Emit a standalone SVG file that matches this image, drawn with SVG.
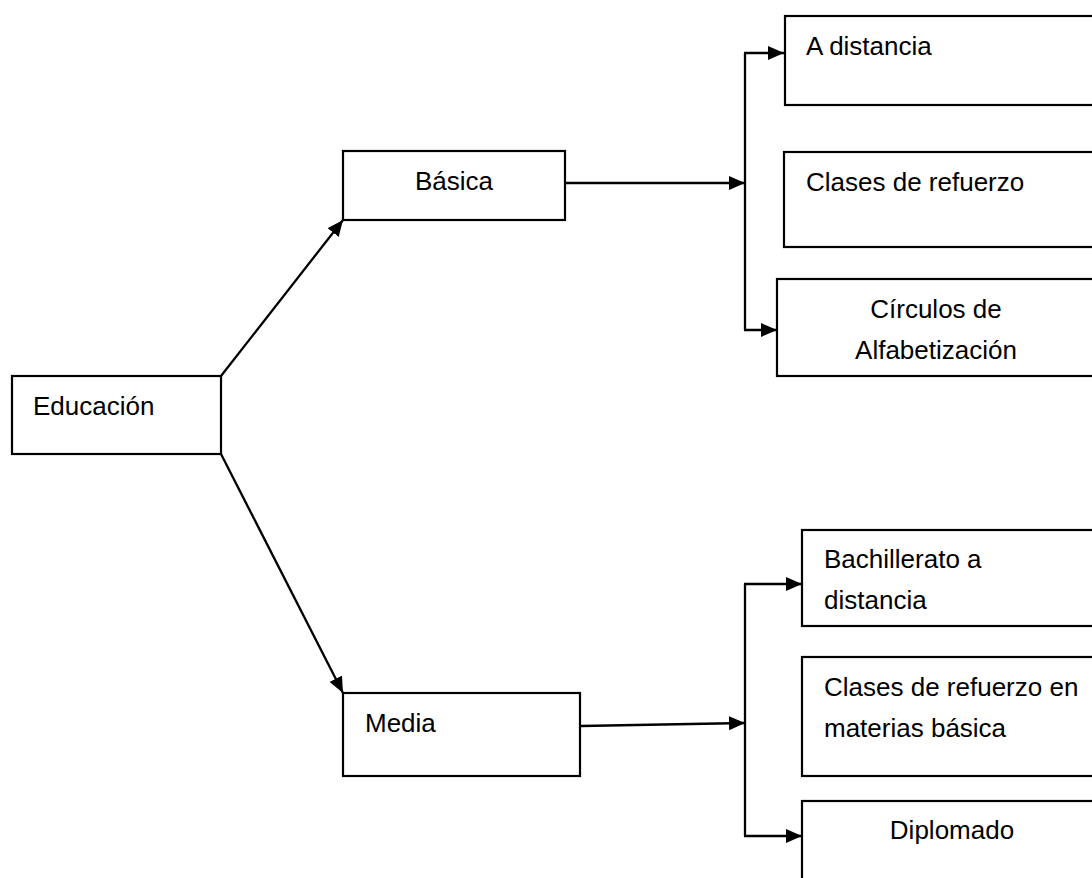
<svg xmlns="http://www.w3.org/2000/svg" width="1092" height="878" viewBox="0 0 1092 878">
<style>
.box{fill:#fff;stroke:#000;stroke-width:2.2}
.t{font-family:"Liberation Sans",Arial,sans-serif;font-size:26px;fill:#000}
.c{text-anchor:middle}
.ln{fill:none;stroke:#000;stroke-width:2.3}
</style>
<defs>
<marker id="ah" markerUnits="userSpaceOnUse" markerWidth="16" markerHeight="14" viewBox="0 0 16 14" refX="16" refY="7" orient="auto">
<path d="M0,0 L16,7 L0,14 z" fill="#000"/>
</marker>
</defs>
<rect width="1092" height="878" fill="#fff"/>
<g id="connectors">
<path class="ln" d="M221,376 L343,220" marker-end="url(#ah)"/>
<path class="ln" d="M221,454 L343,693" marker-end="url(#ah)"/>
<path class="ln" d="M565,183 L745,183" marker-end="url(#ah)"/>
<path class="ln" d="M745,53 L745,330"/>
<path class="ln" d="M744,53 L784,53" marker-end="url(#ah)"/>
<path class="ln" d="M744,330 L777,330" marker-end="url(#ah)"/>
<path class="ln" d="M581,726 L745,723" marker-end="url(#ah)"/>
<path class="ln" d="M745,584 L745,836"/>
<path class="ln" d="M744,584 L802,584" marker-end="url(#ah)"/>
<path class="ln" d="M744,836 L802,836" marker-end="url(#ah)"/>
</g>
<g id="educacion">
<rect class="box" x="12" y="376" width="209" height="78"/>
<text class="t" x="33" y="415">Educación</text>
</g>
<g id="basica">
<rect class="box" x="343" y="151" width="222" height="69"/>
<text class="t c" x="454" y="190">Básica</text>
</g>
<g id="media">
<rect class="box" x="343" y="693" width="237" height="83"/>
<text class="t" x="365" y="732">Media</text>
</g>
<g id="a-distancia">
<rect class="box" x="785" y="16" width="320" height="89"/>
<text class="t" x="806" y="55">A distancia</text>
</g>
<g id="clases-refuerzo">
<rect class="box" x="784" y="152" width="320" height="95"/>
<text class="t" x="806" y="191">Clases de refuerzo</text>
</g>
<g id="circulos">
<rect class="box" x="777" y="279" width="330" height="97"/>
<text class="t c" x="936" y="318">Círculos de</text>
<text class="t c" x="936" y="359">Alfabetización</text>
</g>
<g id="bachillerato">
<rect class="box" x="802" y="530" width="300" height="96"/>
<text class="t" x="824" y="568">Bachillerato a</text>
<text class="t" x="824" y="609">distancia</text>
</g>
<g id="clases-materias">
<rect class="box" x="802" y="657" width="300" height="119"/>
<text class="t" x="824" y="696">Clases de refuerzo en</text>
<text class="t" x="824" y="737">materias básica</text>
</g>
<g id="diplomado">
<rect class="box" x="802" y="801" width="300" height="100"/>
<text class="t c" x="952" y="839">Diplomado</text>
</g>
</svg>
